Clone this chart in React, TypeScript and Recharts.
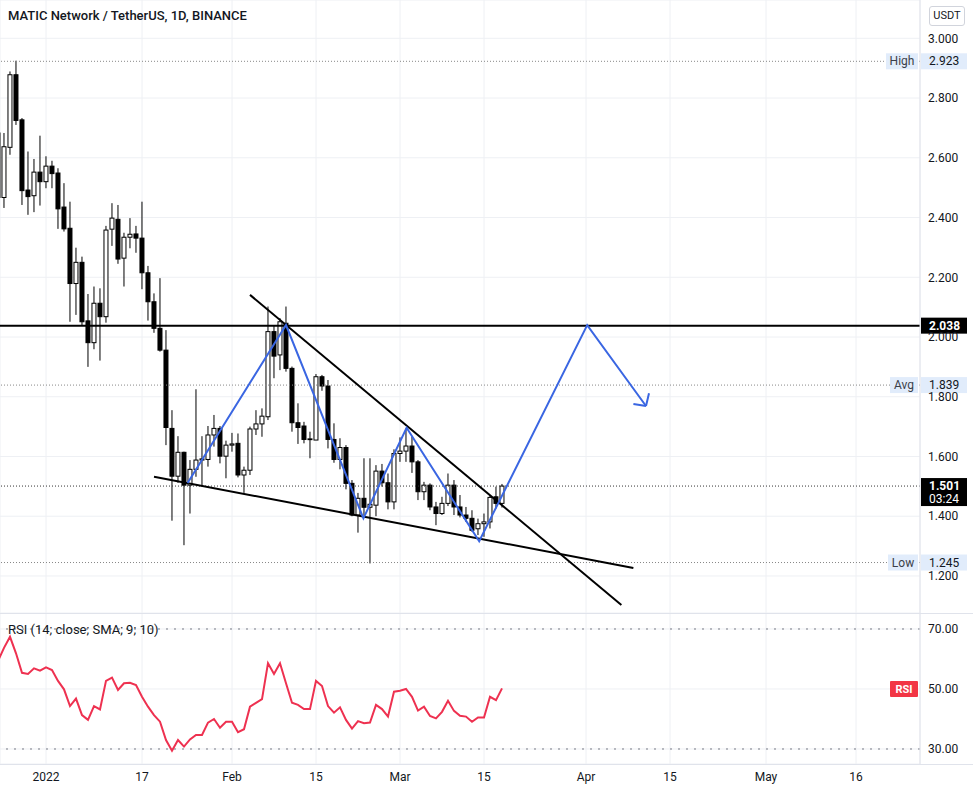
import React from "react";
import {
  ComposedChart,
  Bar,
  Line,
  XAxis,
  YAxis,
  CartesianGrid,
  ReferenceLine,
  ReferenceDot,
} from "recharts";

// ---------- data ----------
const dayIdx = [
  -8, -7, -6, -5, -4, -3, -2, -1,
  0, 1, 2, 3, 4, 5, 6, 7, 8, 9,
  10, 11, 12, 13, 14, 15, 16, 17, 18, 19,
  20, 21, 22, 23, 24, 25, 26, 27, 28, 29,
  30, 31, 32, 33, 34, 35, 36, 37, 38, 39,
  40, 41, 42, 43, 44, 45, 46, 47, 48, 49,
  50, 51, 52, 53, 54, 55, 56, 57, 58, 59,
  60, 61, 62, 63, 64, 65, 66, 67, 68, 69,
  70, 71, 72, 73, 74, 75, 76,
];

const openP = [
  2.683, 2.467, 2.635, 2.878, 2.727, 2.492, 2.473, 2.552,
  2.52, 2.572, 2.549, 2.435, 2.364, 2.179, 2.25, 2.054, 1.981, 2.113,
  2.068, 2.361, 2.394, 2.264, 2.334, 2.345, 2.331, 2.215, 2.118, 2.029,
  1.956, 1.694, 1.534, 1.614, 1.504, 1.557, 1.588, 1.59, 1.672, 1.694,
  1.601, 1.638, 1.644, 1.538, 1.554, 1.692, 1.709, 1.733, 2.018, 1.94,
  2.046, 1.895, 1.713, 1.702, 1.657, 1.655, 1.867, 1.836, 1.657, 1.59,
  1.63, 1.51, 1.404, 1.46, 1.43, 1.437, 1.551, 1.512, 1.448, 1.61,
  1.618, 1.635, 1.582, 1.482, 1.504, 1.431, 1.409, 1.443, 1.504, 1.431,
  1.404, 1.393, 1.358, 1.375, 1.381, 1.465, 1.443,
];

const highP = [
  2.7, 2.683, 2.889, 2.925, 2.733, 2.621, 2.596, 2.674,
  2.605, 2.59, 2.565, 2.515, 2.453, 2.299, 2.269, 2.144, 2.169, 2.163,
  2.372, 2.448, 2.442, 2.349, 2.398, 2.372, 2.453, 2.238, 2.146, 2.197,
  2.023, 1.755, 1.668, 1.616, 1.588, 1.825, 1.668, 1.702, 1.739, 1.702,
  1.653, 1.679, 1.677, 1.566, 1.7, 1.755, 1.761, 2.102, 2.04, 2.063,
  2.102, 1.901, 1.778, 1.716, 1.683, 1.876, 1.873, 1.856, 1.711, 1.661,
  1.638, 1.521, 1.478, 1.594, 1.594, 1.571, 1.575, 1.543, 1.624, 1.664,
  1.694, 1.666, 1.588, 1.515, 1.51, 1.448, 1.465, 1.543, 1.521, 1.471,
  1.431, 1.42, 1.392, 1.409, 1.471, 1.499, 1.508,
];

const lowP = [
  2.44, 2.432, 2.61, 2.71, 2.442, 2.409, 2.418, 2.44,
  2.498, 2.498, 2.362, 2.353, 2.051, 2.074, 2.04, 1.9, 1.959, 1.921,
  2.048, 2.305, 2.245, 2.169, 2.297, 2.282, 2.16, 2.055, 2.014, 1.951,
  1.638, 1.385, 1.512, 1.303, 1.409, 1.532, 1.499, 1.566, 1.633, 1.577,
  1.527, 1.616, 1.53, 1.478, 1.538, 1.672, 1.666, 1.722, 1.862, 1.889,
  1.884, 1.683, 1.642, 1.644, 1.594, 1.655, 1.82, 1.627, 1.579, 1.557,
  1.49, 1.4, 1.345, 1.404, 1.242, 1.4, 1.499, 1.423, 1.423, 1.582,
  1.582, 1.545, 1.454, 1.454, 1.42, 1.37, 1.404, 1.434, 1.404, 1.396,
  1.381, 1.348, 1.337, 1.331, 1.359, 1.426, 1.429,
];

const closeP = [
  2.467, 2.637, 2.878, 2.725, 2.49, 2.47, 2.552, 2.52,
  2.572, 2.547, 2.429, 2.362, 2.179, 2.25, 2.051, 1.981, 2.113, 2.068,
  2.358, 2.398, 2.261, 2.334, 2.344, 2.331, 2.215, 2.118, 2.029, 1.956,
  1.697, 1.534, 1.614, 1.504, 1.557, 1.588, 1.592, 1.672, 1.694, 1.601,
  1.638, 1.642, 1.538, 1.554, 1.692, 1.709, 1.735, 2.018, 1.936, 2.051,
  1.895, 1.713, 1.697, 1.657, 1.659, 1.867, 1.836, 1.657, 1.59, 1.63,
  1.51, 1.404, 1.46, 1.43, 1.44, 1.551, 1.512, 1.448, 1.61, 1.618,
  1.635, 1.582, 1.482, 1.504, 1.431, 1.409, 1.443, 1.504, 1.431, 1.404,
  1.393, 1.353, 1.375, 1.381, 1.463, 1.443, 1.501,
];

const rsiVals = [
  59.3, 63.7, 67.4, 61.9, 55.4, 55.0, 56.9, 56.1,
  57.2, 56.3, 52.7, 49.9, 44.3, 46.8, 41.3, 39.7, 44.3, 43.2,
  52.7, 53.8, 49.7, 51.9, 52.1, 51.3, 47.4, 44.1, 41.3, 39.1,
  33.0, 29.4, 33.0, 30.8, 33.2, 34.7, 34.7, 38.8, 40.0, 37.1,
  39.1, 39.1, 35.6, 36.6, 44.1, 45.4, 46.6, 58.6, 55.0, 58.6,
  51.9, 45.4, 44.7, 43.3, 43.3, 52.7, 51.0, 44.3, 42.1, 43.9,
  39.7, 36.8, 39.3, 38.6, 38.8, 44.7, 43.3, 40.8, 49.1, 49.4,
  50.0, 47.4, 42.8, 44.1, 41.0, 40.2, 42.4, 46.1, 42.7, 41.1,
  40.8, 39.1, 40.5, 40.5, 47.4, 46.3, 50.2,
];

const timeTicks = [0, 16, 31, 45, 59, 73, 90, 104, 120, 135];
const timeLabels = ["2022", "17", "Feb", "15", "Mar", "15", "Apr", "15", "May", "16"];
const priceTicks = [1.2, 1.4, 1.6, 1.8, 2.0, 2.2, 2.4, 2.6, 2.8, 3.0];
const rsiTicks = [30, 50, 70];

const resistanceLevel = 2.038;
const highLevel = 2.923;
const avgLevel = 1.839;
const lowLevel = 1.245;
const lastLevel = 1.501;
const countdown = "03:24";

const upperTrend = [
  { d: 34, p: 2.141 },
  { d: 95.9, p: 1.103 },
];
const lowerTrend = [
  { d: 18, p: 1.532 },
  { d: 97.9, p: 1.227 },
];
const patternPath = [
  { d: 23.6, p: 1.511 },
  { d: 40, p: 2.04 },
  { d: 52.9, p: 1.393 },
  { d: 60.1, p: 1.696 },
  { d: 72.2, p: 1.316 },
  { d: 90.2, p: 2.04 },
  { d: 100, p: 1.769 },
];
const arrowArmA = [
  { d: 97.9, p: 1.776 },
  { d: 100, p: 1.769 },
];
const arrowArmB = [
  { d: 100.5, p: 1.812 },
  { d: 100, p: 1.769 },
];

// ---------- layout constants ----------
const W = 973;
const PRICE_H = 613;
const RSI_H = 179;
const AXIS_W = 53;
const XMIN = -46 / 6;
const XMAX = 874 / 6;
const YMIN = 2 - 276 / 298.7;
const YMAX = 2 + 337 / 298.7;
const RMIN = 25;
const RMAX = 75.333;
const FONT = "Roboto, 'Noto Sans', Arial, sans-serif";
const TXT = "#131722";

const candles = dayIdx.map((d, i) => ({
  d,
  range: [lowP[i], highP[i]],
  o: openP[i],
  hi: highP[i],
  lo: lowP[i],
  c: closeP[i],
}));
const rsiData = dayIdx.map((d, i) => ({ d, rsi: rsiVals[i] }));

function CandleShape(props: any) {
  const { x, y, width, height, payload } = props;
  if (!payload || x == null || y == null || height == null) return <g />;
  const top = Math.min(y, y + height);
  const h = Math.abs(height);
  const span = payload.hi - payload.lo || 1e-9;
  const py = (v: number) => top + ((payload.hi - v) / span) * h;
  const cx = x + width / 2;
  const bTop = py(Math.max(payload.o, payload.c));
  const bBot = py(Math.min(payload.o, payload.c));
  const up = payload.c >= payload.o;
  return (
    <g>
      <line x1={cx} x2={cx} y1={top} y2={top + h} stroke="#000" strokeWidth={1} />
      <rect
        x={cx - 2}
        y={bTop}
        width={4}
        height={Math.max(bBot - bTop, 0.8)}
        fill={up ? "#fff" : "#000"}
        stroke="#000"
        strokeWidth={1}
      />
    </g>
  );
}

function makeBadge(opts: {
  bg: string;
  fg: string;
  text: string;
  bold?: boolean;
  tag?: string;
  tagW?: number;
  sub?: string;
}) {
  return (props: any) => {
    const { cx, cy } = props;
    if (cx == null || cy == null) return <g />;
    const h = opts.sub ? 28 : 16;
    const tw = opts.tagW || 32;
    return (
      <g>
        {opts.tag ? (
          <g>
            <rect x={cx - tw - 2} y={cy - 8} width={tw} height={16} fill={opts.bg} />
            <text
              x={cx - tw / 2 - 2}
              y={cy + 4}
              textAnchor="middle"
              fontSize={12}
              fill="#3b3f4a"
              fontFamily={FONT}
            >
              {opts.tag}
            </text>
          </g>
        ) : null}
        <rect x={cx + 1} y={cy - 8} width={46} height={h} fill={opts.bg} />
        <text
          x={cx + 9}
          y={cy + 4}
          fontSize={12}
          fontWeight={opts.bold ? 700 : 400}
          fill={opts.fg}
          fontFamily={FONT}
        >
          {opts.text}
        </text>
        {opts.sub ? (
          <text x={cx + 9} y={cy + 17} fontSize={12} fill={opts.fg} fontFamily={FONT}>
            {opts.sub}
          </text>
        ) : null}
      </g>
    );
  };
}

function RsiBadge(props: any) {
  const { cx, cy } = props;
  if (cx == null || cy == null) return <g />;
  return (
    <g>
      <rect x={cx - 30} y={cy - 8} width={28} height={16} rx={1} fill="#f23645" />
      <text
        x={cx - 16}
        y={cy + 4}
        textAnchor="middle"
        fontSize={11}
        fontWeight={700}
        fill="#fff"
        fontFamily={FONT}
      >
        RSI
      </text>
    </g>
  );
}

const LIGHT_BLUE = "#e1ecfb";
const BLUE = "#3a66e2";

export default function App() {
  return (
    <div
      style={{
        position: "absolute",
        left: 0,
        top: 0,
        width: W,
        height: PRICE_H + RSI_H,
        background: "#fff",
        overflow: "hidden",
        fontFamily: FONT,
      }}
    >
      <div style={{ position: "absolute", left: 0, top: 0 }}>
        <ComposedChart
          width={W}
          height={PRICE_H}
          data={candles}
          margin={{ top: 0, right: 0, bottom: 0, left: 0 }}
        >
          <CartesianGrid stroke="#eef0f4" />
          <XAxis
            type="number"
            dataKey="d"
            domain={[XMIN, XMAX]}
            ticks={timeTicks}
            allowDataOverflow
            hide
          />
          <YAxis
            orientation="right"
            type="number"
            domain={[YMIN, YMAX]}
            ticks={priceTicks}
            interval={0}
            allowDataOverflow
            width={AXIS_W}
            tickFormatter={(v: number) => v.toFixed(3)}
            axisLine={{ stroke: "#e0e3eb" }}
            tickLine={false}
            tick={{ fill: TXT, fontSize: 12, fontFamily: FONT }}
          />
          <ReferenceLine y={highLevel} stroke="#888" strokeDasharray="1 2" />
          <ReferenceLine y={avgLevel} stroke="#888" strokeDasharray="1 2" />
          <ReferenceLine y={lowLevel} stroke="#888" strokeDasharray="1 2" />
          <ReferenceLine y={lastLevel} stroke="#333" strokeDasharray="1 2" />
          <Bar
            dataKey="range"
            barSize={5}
            shape={CandleShape}
            isAnimationActive={false}
          />
          <ReferenceLine y={resistanceLevel} stroke="#000" strokeWidth={2} />
          <Line
            data={upperTrend}
            dataKey="p"
            stroke="#000"
            strokeWidth={2}
            dot={false}
            activeDot={false}
            isAnimationActive={false}
          />
          <Line
            data={lowerTrend}
            dataKey="p"
            stroke="#000"
            strokeWidth={2}
            dot={false}
            activeDot={false}
            isAnimationActive={false}
          />
          <Line
            data={patternPath}
            dataKey="p"
            stroke={BLUE}
            strokeWidth={2}
            dot={false}
            activeDot={false}
            isAnimationActive={false}
          />
          <Line
            data={arrowArmA}
            dataKey="p"
            stroke={BLUE}
            strokeWidth={2}
            dot={false}
            activeDot={false}
            isAnimationActive={false}
          />
          <Line
            data={arrowArmB}
            dataKey="p"
            stroke={BLUE}
            strokeWidth={2}
            dot={false}
            activeDot={false}
            isAnimationActive={false}
          />
          <ReferenceDot
            x={XMAX}
            y={highLevel}
            r={0}
            ifOverflow="visible"
            shape={makeBadge({ bg: LIGHT_BLUE, fg: TXT, text: highLevel.toFixed(3), tag: "High", tagW: 32 })}
          />
          <ReferenceDot
            x={XMAX}
            y={avgLevel}
            r={0}
            ifOverflow="visible"
            shape={makeBadge({ bg: LIGHT_BLUE, fg: TXT, text: avgLevel.toFixed(3), tag: "Avg", tagW: 28 })}
          />
          <ReferenceDot
            x={XMAX}
            y={lowLevel}
            r={0}
            ifOverflow="visible"
            shape={makeBadge({ bg: LIGHT_BLUE, fg: TXT, text: lowLevel.toFixed(3), tag: "Low", tagW: 30 })}
          />
          <ReferenceDot
            x={XMAX}
            y={resistanceLevel}
            r={0}
            ifOverflow="visible"
            shape={makeBadge({ bg: "#000", fg: "#fff", text: resistanceLevel.toFixed(3), bold: true })}
          />
          <ReferenceDot
            x={XMAX}
            y={lastLevel}
            r={0}
            ifOverflow="visible"
            shape={makeBadge({ bg: "#000", fg: "#fff", text: lastLevel.toFixed(3), bold: true, sub: countdown })}
          />
        </ComposedChart>
      </div>

      <div style={{ position: "absolute", left: 0, top: PRICE_H }}>
        <ComposedChart
          width={W}
          height={RSI_H}
          data={rsiData}
          margin={{ top: 0, right: 0, bottom: 0, left: 0 }}
        >
          <CartesianGrid stroke="#eef0f4" />
          <XAxis
            type="number"
            dataKey="d"
            domain={[XMIN, XMAX]}
            ticks={timeTicks}
            interval={0}
            allowDataOverflow
            height={28}
            tickFormatter={(v: number) => timeLabels[timeTicks.indexOf(v)] ?? ""}
            axisLine={false}
            tickLine={false}
            tick={{ fill: TXT, fontSize: 12, fontFamily: FONT }}
          />
          <YAxis
            orientation="right"
            type="number"
            domain={[RMIN, RMAX]}
            ticks={rsiTicks}
            interval={0}
            allowDataOverflow
            width={AXIS_W}
            tickFormatter={(v: number) => v.toFixed(2)}
            axisLine={{ stroke: "#e0e3eb" }}
            tickLine={false}
            tick={{ fill: TXT, fontSize: 12, fontFamily: FONT }}
          />
          <ReferenceLine y={70} stroke="#787b86" strokeDasharray="2 6" />
          <ReferenceLine y={30} stroke="#787b86" strokeDasharray="2 6" />
          <Line
            dataKey="rsi"
            stroke="#ee3150"
            strokeWidth={2}
            dot={false}
            activeDot={false}
            isAnimationActive={false}
          />
          <ReferenceDot x={XMAX} y={50} r={0} ifOverflow="visible" shape={RsiBadge} />
        </ComposedChart>
      </div>

      {/* pane separators */}
      <div style={{ position: "absolute", left: 0, top: PRICE_H, width: W, height: 1, background: "#e0e3eb" }} />
      <div style={{ position: "absolute", left: 0, top: PRICE_H + 151, width: W, height: 1, background: "#e0e3eb" }} />

      {/* titles */}
      <div
        style={{
          position: "absolute",
          left: 8,
          top: 7,
          fontSize: 13,
          fontWeight: 500,
          color: TXT,
          whiteSpace: "nowrap",
          lineHeight: "18px",
        }}
      >
        MATIC Network / TetherUS, 1D, BINANCE
      </div>
      <div
        style={{
          position: "absolute",
          left: 8,
          top: 621,
          fontSize: 13,
          color: TXT,
          whiteSpace: "nowrap",
          lineHeight: "18px",
        }}
      >
        RSI (14; close; SMA; 9; 10)
      </div>
      <div
        style={{
          position: "absolute",
          left: 929,
          top: 6,
          width: 34,
          height: 18,
          border: "1px solid #d1d4dc",
          borderRadius: 3,
          fontSize: 11,
          lineHeight: "18px",
          textAlign: "center",
          color: TXT,
        }}
      >
        USDT
      </div>
    </div>
  );
}
